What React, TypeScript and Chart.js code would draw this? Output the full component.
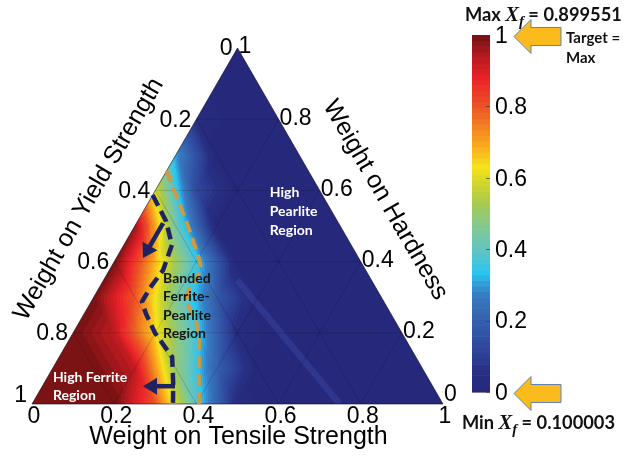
import React, { useEffect, useRef } from "react";
import { Chart, registerables } from "chart.js";

Chart.register(...registerables);

// ---------------- DATA ----------------
// Normalized X_f on a 0.1 ternary grid.
// Row k: weight on hardness = k/10; entry i: weight on tensile strength = i/10
// (weight on yield strength = 1 - tensile - hardness)
const fieldHardness00 = [1.0, 1.0, 1.0, 0.8, 0.38, 0.03, 0, 0, 0, 0, 0];
const fieldHardness01 = [1.0, 1.0, 0.93, 0.5, 0.2, 0, 0, 0, 0, 0];
const fieldHardness02 = [1.0, 0.93, 0.64, 0.36, 0.04, 0, 0, 0, 0];
const fieldHardness03 = [1.0, 0.8, 0.46, 0.18, 0, 0, 0, 0];
const fieldHardness04 = [1.0, 0.68, 0.36, 0, 0, 0, 0];
const fieldHardness05 = [0.97, 0.43, 0, 0, 0, 0];
const fieldHardness06 = [0.6, 0.13, 0, 0, 0];
const fieldHardness07 = [0.3, 0.0, 0, 0];
const fieldHardness08 = [0.04, 0, 0];
const fieldHardness09 = [0, 0];
const fieldHardness10 = [0];

const axisTicks = [0, 0.2, 0.4, 0.6, 0.8, 1];
const axisTickLabels = ["0", "0.2", "0.4", "0.6", "0.8", "1"];
const colorbarTicks = [0, 0.2, 0.4, 0.6, 0.8, 1];
const colorbarTickLabels = ["0", "0.2", "0.4", "0.6", "0.8", "1"];

// Boundary of the banded ferrite-pearlite region (ferrite side), ternary coords
const ferriteBoundaryTensile = [0.0, 0.069, 0.117, 0.131, 0.124, 0.124, 0.151, 0.2, 0.247, 0.275, 0.314, 0.343];
const ferriteBoundaryHardness = [0.587, 0.514, 0.447, 0.376, 0.326, 0.287, 0.253, 0.199, 0.157, 0.132, 0.059, 0.0];

// Boundary on the pearlite side
const pearliteBoundaryTensile = [0.0, 0.064, 0.143, 0.201, 0.22, 0.225, 0.222, 0.231, 0.281, 0.316, 0.406];
const pearliteBoundaryHardness = [0.655, 0.579, 0.483, 0.41, 0.382, 0.348, 0.315, 0.287, 0.236, 0.18, 0.0];

// Arrows (tail -> tip)
const arrowUpperTensile = [0.065, 0.065];
const arrowUpperHardness = [0.508, 0.41];
const arrowLowerTensile = [0.318, 0.245];
const arrowLowerHardness = [0.05, 0.05];

// Faint lighter streak in the pearlite region
const streakTensile = [0.325, 0.749];
const streakHardness = [0.348, 0.0];

const maxXf = 0.899551;
const minXf = 0.100003;

const fieldRows = [
  fieldHardness00, fieldHardness01, fieldHardness02, fieldHardness03, fieldHardness04,
  fieldHardness05, fieldHardness06, fieldHardness07, fieldHardness08, fieldHardness09, fieldHardness10,
];

// ---------------- STYLE ----------------
const SANS = '"Liberation Sans", Arial, Helvetica, sans-serif';
const NOTE = 'Lato, "Open Sans", "Noto Sans", sans-serif';
const SERIF = '"Liberation Serif", "DejaVu Serif", serif';

const cmapStops: number[][] = [
  [0.0, 38, 40, 122],
  [0.06, 40, 48, 132],
  [0.12, 47, 70, 155],
  [0.2, 53, 96, 174],
  [0.27, 55, 122, 192],
  [0.3, 50, 152, 214],
  [0.335, 42, 196, 240],
  [0.4, 98, 196, 192],
  [0.46, 128, 200, 150],
  [0.53, 166, 202, 78],
  [0.58, 205, 212, 45],
  [0.63, 245, 228, 28],
  [0.68, 250, 180, 28],
  [0.73, 245, 140, 32],
  [0.8, 236, 84, 38],
  [0.88, 234, 34, 40],
  [0.94, 182, 26, 30],
  [1.0, 114, 18, 20],
];

function cmap(v: number): number[] {
  const t = Math.max(0, Math.min(1, v));
  for (let s = 1; s < cmapStops.length; s++) {
    const a = cmapStops[s - 1], b = cmapStops[s];
    if (t <= b[0]) {
      const f = (t - a[0]) / (b[0] - a[0]);
      return [a[1] + (b[1] - a[1]) * f, a[2] + (b[2] - a[2]) * f, a[3] + (b[3] - a[3]) * f];
    }
  }
  const l = cmapStops[cmapStops.length - 1];
  return [l[1], l[2], l[3]];
}

const NLEV = 64;
const palette: number[][] = Array.from({ length: NLEV }, (_, q) => cmap((q + 0.5) / NLEV).map(Math.round));

function fieldValue(t: number, h: number): number {
  const n = fieldRows.length - 1;
  const a = t * n, b = h * n;
  let k = Math.floor(b);
  if (k > n - 1) k = n - 1;
  if (k < 0) k = 0;
  let i = Math.floor(a);
  if (i < 0) i = 0;
  if (i + k > n - 1) i = n - 1 - k;
  const fa = a - i, fb = b - k;
  const v = (ii: number, kk: number) => {
    const row = fieldRows[kk];
    return row[Math.min(ii, row.length - 1)];
  };
  if (fa + fb <= 1 || i + k + 2 > n) {
    return v(i, k) * (1 - fa - fb) + v(i + 1, k) * fa + v(i, k + 1) * fb;
  }
  return v(i + 1, k + 1) * (fa + fb - 1) + v(i + 1, k) * (1 - fb) + v(i, k + 1) * (1 - fa);
}

const toCart = (t: number, h: number) => ({ x: t + h / 2, y: h });

function drawArrow(ctx: CanvasRenderingContext2D, x0: number, y0: number, x1: number, y1: number, color: string) {
  const dx = x1 - x0, dy = y1 - y0;
  const L = Math.hypot(dx, dy);
  const ux = dx / L, uy = dy / L;
  const headLen = 14, headHalf = 8.5;
  const bx = x1 - ux * headLen, by = y1 - uy * headLen;
  ctx.strokeStyle = color;
  ctx.lineWidth = 4.5;
  ctx.lineCap = "butt";
  ctx.setLineDash([]);
  ctx.beginPath();
  ctx.moveTo(x0, y0);
  ctx.lineTo(bx + ux * 2, by + uy * 2);
  ctx.stroke();
  ctx.fillStyle = color;
  ctx.beginPath();
  ctx.moveTo(x1, y1);
  ctx.lineTo(bx - uy * headHalf, by + ux * headHalf);
  ctx.lineTo(bx + uy * headHalf, by - ux * headHalf);
  ctx.closePath();
  ctx.fill();
}

function drawXfText(ctx: CanvasRenderingContext2D, prefix: string, value: number, x: number, baseline: number, targetWidth: number) {
  const parts = [
    { text: prefix + " ", font: (s: number) => `bold ${s}px ${NOTE}`, size: 16, dy: 0 },
    { text: "X", font: (s: number) => `italic bold ${s}px ${SERIF}`, size: 18, dy: 0 },
    { text: "f", font: (s: number) => `italic bold ${s}px ${SERIF}`, size: 13, dy: 5 },
    { text: " = " + value.toFixed(6), font: (s: number) => `bold ${s}px ${NOTE}`, size: 16, dy: 0 },
  ];
  let total = 0;
  for (const p of parts) {
    ctx.font = p.font(p.size);
    total += ctx.measureText(p.text).width;
  }
  const sc = Math.max(0.85, Math.min(1.2, targetWidth / total));
  let cx = x;
  ctx.fillStyle = "#111";
  ctx.textAlign = "left";
  ctx.textBaseline = "alphabetic";
  for (const p of parts) {
    ctx.font = p.font(p.size * sc);
    ctx.fillText(p.text, cx, baseline + p.dy);
    cx += ctx.measureText(p.text).width;
  }
}

const ternaryPlugin = {
  id: "ternaryPlugin",
  beforeDatasetsDraw(chart: any) {
    const { ctx, scales } = chart;
    const xs = scales.x, ys = scales.y;
    const P = (t: number, h: number) => {
      const c = toCart(t, h);
      return { x: xs.getPixelForValue(c.x), y: ys.getPixelForValue(c.y) };
    };
    const A = P(0, 0), B = P(1, 0), C = P(0, 1);

    // heat field
    const fx0 = Math.floor(A.x) - 1, fx1 = Math.ceil(B.x) + 1;
    const fy0 = Math.floor(C.y) - 1, fy1 = Math.ceil(A.y) + 1;
    const fw = fx1 - fx0, fh = fy1 - fy0;
    const off = document.createElement("canvas");
    off.width = fw;
    off.height = fh;
    const octx = off.getContext("2d")!;
    const img = octx.createImageData(fw, fh);
    for (let j = 0; j < fh; j++) {
      const hv = ys.getValueForPixel(fy0 + j + 0.5);
      const h = Math.min(1, Math.max(0, hv));
      for (let i = 0; i < fw; i++) {
        const cx = xs.getValueForPixel(fx0 + i + 0.5);
        let t = cx - h / 2;
        t = Math.max(0, Math.min(1 - h, t));
        const v = fieldValue(t, h);
        const q = Math.min(NLEV - 1, Math.max(0, Math.floor(v * NLEV)));
        const col = palette[q];
        const o = (j * fw + i) * 4;
        img.data[o] = col[0];
        img.data[o + 1] = col[1];
        img.data[o + 2] = col[2];
        img.data[o + 3] = 255;
      }
    }
    octx.putImageData(img, 0, 0);

    ctx.save();
    ctx.beginPath();
    ctx.moveTo(A.x, A.y);
    ctx.lineTo(B.x, B.y);
    ctx.lineTo(C.x, C.y);
    ctx.closePath();
    ctx.clip();
    ctx.drawImage(off, fx0, fy0);

    // faint streak
    const s0 = P(streakTensile[0], streakHardness[0]);
    const s1 = P(streakTensile[1], streakHardness[1]);
    ctx.strokeStyle = "rgba(62,76,170,0.38)";
    ctx.lineWidth = 6.5;
    ctx.lineCap = "butt";
    ctx.beginPath();
    ctx.moveTo(s0.x, s0.y);
    ctx.lineTo(s1.x, s1.y);
    ctx.stroke();

    // grid lines every 0.2
    ctx.strokeStyle = "rgba(0,0,20,0.16)";
    ctx.lineWidth = 1;
    for (const c of axisTicks) {
      if (c <= 0 || c >= 1) continue;
      const lines = [
        [P(0, c), P(1 - c, c)],
        [P(c, 0), P(c, 1 - c)],
        [P(1 - c, 0), P(0, 1 - c)],
      ];
      for (const [p, q] of lines) {
        ctx.beginPath();
        ctx.moveTo(p.x, p.y);
        ctx.lineTo(q.x, q.y);
        ctx.stroke();
      }
    }
    ctx.restore();

    // outline
    ctx.save();
    ctx.strokeStyle = "rgba(10,10,30,0.6)";
    ctx.lineWidth = 1;
    ctx.beginPath();
    ctx.moveTo(A.x, A.y);
    ctx.lineTo(B.x, B.y);
    ctx.lineTo(C.x, C.y);
    ctx.closePath();
    ctx.stroke();
    ctx.restore();
  },
  afterDatasetsDraw(chart: any) {
    const { ctx, scales } = chart;
    const xs = scales.x, ys = scales.y;
    const P = (t: number, h: number) => {
      const c = toCart(t, h);
      return { x: xs.getPixelForValue(c.x), y: ys.getPixelForValue(c.y) };
    };
    const A = P(0, 0), B = P(1, 0), C = P(0, 1);
    ctx.save();

    // arrows
    const navy = "#1f2461";
    {
      const a0 = P(arrowUpperTensile[0], arrowUpperHardness[0]);
      const a1 = P(arrowUpperTensile[1], arrowUpperHardness[1]);
      drawArrow(ctx, a0.x, a0.y, a1.x, a1.y, navy);
      const b0 = P(arrowLowerTensile[0], arrowLowerHardness[0]);
      const b1 = P(arrowLowerTensile[1], arrowLowerHardness[1]);
      drawArrow(ctx, b0.x + 2, b0.y, b1.x, b1.y, navy);
    }

    // region annotations
    const note = (lines: string[], t: number, h: number, lh: number, color: string) => {
      const p = P(t, h);
      ctx.font = `bold 14px ${NOTE}`;
      ctx.fillStyle = color;
      ctx.textAlign = "left";
      ctx.textBaseline = "alphabetic";
      lines.forEach((s, i) => ctx.fillText(s, p.x, p.y + i * lh));
    };
    note(["High", "Pearlite", "Region"], 0.288, 0.581, 18.7, "#ffffff");
    note(["Banded", "Ferrite-", "Pearlite", "Region"], 0.149, 0.34, 18.4, "#141414");
    note(["High Ferrite", "Region"], 0.02, 0.0618, 18, "#ffffff");

    // tick labels
    ctx.font = `23px ${SANS}`;
    ctx.fillStyle = "#000";
    ctx.textBaseline = "middle";
    axisTicks.forEach((v, i) => {
      const lab = axisTickLabels[i];
      // tensile (bottom)
      const pb = P(v, 0);
      ctx.textAlign = "center";
      ctx.fillText(lab, pb.x + 2, pb.y + 13);
      // yield (left edge): yield = v
      const pl = P(0, 1 - v);
      ctx.textAlign = "right";
      ctx.fillText(lab, pl.x - 5, pl.y + 1 - (v === 1 ? 9 : 0));
      // hardness (right edge): hardness = v
      const pr = P(1 - v, v);
      ctx.textAlign = "left";
      ctx.fillText(lab, pr.x + 1, pr.y - 1 - (v === 0 ? 8 : 0));
    });

    // axis titles
    ctx.font = `25px ${SANS}`;
    ctx.textAlign = "center";
    ctx.textBaseline = "middle";
    ctx.fillText("Weight on Tensile Strength", (A.x + B.x) / 2 + 1, A.y + 33);
    const off = 53;
    const ml = { x: (A.x + C.x) / 2, y: (A.y + C.y) / 2 };
    ctx.save();
    ctx.translate(ml.x - off * Math.sin(Math.PI / 3), ml.y - off * Math.cos(Math.PI / 3));
    ctx.rotate(-Math.PI / 3);
    ctx.fillText("Weight on Yield Strength", 0, 0);
    ctx.restore();
    const mr = { x: (B.x + C.x) / 2, y: (B.y + C.y) / 2 };
    ctx.save();
    ctx.translate(mr.x + (off - 1) * Math.sin(Math.PI / 3), mr.y - (off - 1) * Math.cos(Math.PI / 3));
    ctx.rotate(Math.PI / 3);
    ctx.fillText("Weight on Hardness", 0, 0);
    ctx.restore();

    // colorbar
    const cbL = 472, cbR = 490, cbT = 35, cbB = 392;
    const vy = (v: number) => cbB - v * (cbB - cbT);
    for (let q = 0; q < NLEV; q++) {
      const y0 = vy((q + 1) / NLEV), y1 = vy(q / NLEV);
      const c = palette[q];
      ctx.fillStyle = `rgb(${c[0]},${c[1]},${c[2]})`;
      ctx.fillRect(cbL, y0, cbR - cbL, y1 - y0 + 0.6);
    }
    ctx.strokeStyle = "rgba(60,60,60,0.7)";
    ctx.lineWidth = 1;
    colorbarTicks.forEach((v) => {
      const y = Math.round(vy(v)) + 0.5;
      ctx.beginPath();
      ctx.moveTo(cbR - 4, y);
      ctx.lineTo(cbR, y);
      ctx.stroke();
    });
    ctx.font = `23px ${SANS}`;
    ctx.fillStyle = "#000";
    ctx.textAlign = "left";
    ctx.textBaseline = "middle";
    colorbarTicks.forEach((v, i) => ctx.fillText(colorbarTickLabels[i], 495, vy(v) + 1.5));

    // yellow arrows at colorbar ends
    [1, 0].forEach((v) => {
      const yc = vy(v) + 1.5;
      ctx.beginPath();
      ctx.moveTo(514, yc);
      ctx.lineTo(531, yc - 17);
      ctx.lineTo(531, yc - 9);
      ctx.lineTo(561, yc - 9);
      ctx.lineTo(561, yc + 9);
      ctx.lineTo(531, yc + 9);
      ctx.lineTo(531, yc + 17);
      ctx.closePath();
      ctx.fillStyle = "#fbbb1d";
      ctx.fill();
      ctx.strokeStyle = "#5f82b8";
      ctx.lineWidth = 1;
      ctx.stroke();
    });

    // texts
    drawXfText(ctx, "Max", maxXf, 465, 21, 157);
    drawXfText(ctx, "Min", minXf, 462, 429, 153);
    ctx.font = `bold 15px ${NOTE}`;
    ctx.fillStyle = "#111";
    ctx.textAlign = "left";
    ctx.textBaseline = "alphabetic";
    ctx.fillText("Target =", 566, 43);
    ctx.fillText("Max", 566, 63);

    ctx.restore();
  },
};

export default function App() {
  const ref = useRef<HTMLCanvasElement>(null);
  useEffect(() => {
    const canvas = ref.current;
    if (!canvas) return;
    const line = (ts: number[], hs: number[]) => ts.map((t, i) => toCart(t, hs[i]));
    const chart = new Chart(canvas, {
      type: "scatter",
      data: {
        datasets: [
          {
            label: "Ferrite-side boundary",
            data: line(ferriteBoundaryTensile, ferriteBoundaryHardness),
            showLine: true,
            borderColor: "#1f2461",
            borderWidth: 4.5,
            borderDash: [12, 6],
            pointRadius: 0,
            fill: false,
            tension: 0,
          },
          {
            label: "Pearlite-side boundary",
            data: line(pearliteBoundaryTensile, pearliteBoundaryHardness),
            showLine: true,
            borderColor: "#cf9a40",
            borderWidth: 4,
            borderDash: [12, 6],
            pointRadius: 0,
            fill: false,
            tension: 0,
          },
        ],
      },
      options: {
        responsive: false,
        animation: false,
        devicePixelRatio: 1,
        events: [],
        layout: { padding: { left: 32, right: 191, top: 48, bottom: 53 } },
        scales: {
          x: { type: "linear", min: 0, max: 1, display: false },
          y: { type: "linear", min: 0, max: 1, display: false },
        },
        plugins: { legend: { display: false }, tooltip: { enabled: false } },
      } as any,
      plugins: [ternaryPlugin],
    });
    let alive = true;
    if ((document as any).fonts?.ready) {
      (document as any).fonts.ready.then(() => {
        if (alive) chart.draw();
      });
    }
    return () => {
      alive = false;
      chart.destroy();
    };
  }, []);
  return (
    <div style={{ position: "fixed", left: 0, top: 0, width: 634, height: 457, background: "#fff" }}>
      <canvas ref={ref} width={634} height={457} style={{ display: "block", width: 634, height: 457 }} />
    </div>
  );
}
